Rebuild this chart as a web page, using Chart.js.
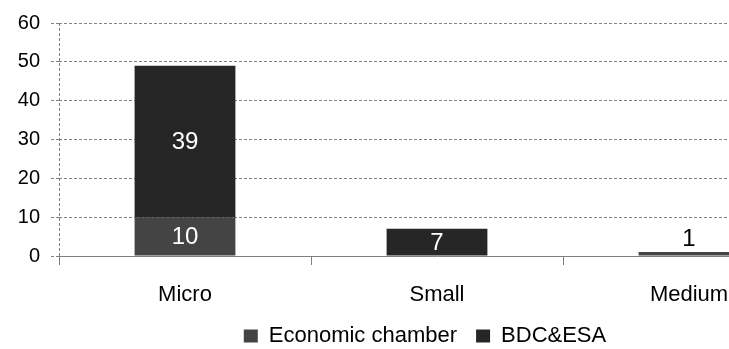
<!DOCTYPE html>
<html>
<head>
<meta charset="utf-8">
<script src="https://cdn.jsdelivr.net/npm/chart.js@4/dist/chart.umd.min.js"></script>
<style>
  html, body { margin: 0; padding: 0; background: #fff; overflow: hidden; }
  #wrap { position: relative; width: 880px; height: 357px; }
</style>
</head>
<body>
<div id="wrap"><canvas id="chart"></canvas></div>
<script>
// datos del grafico
const categorias = ['Micro', 'Small', 'Medium'];
const economicChamber = [10, 0, 1];
const bdcEsa = [39, 7, 0];
const ticksY = [0, 10, 20, 30, 40, 50, 60];

const fuente = '"Liberation Sans", Arial, sans-serif';

// etiquetas de valores sobre las barras
const etiquetasBarras = {
    id: 'etiquetasBarras',
    afterDatasetsDraw(chart) {
        const ctx = chart.ctx;
        ctx.save();
        ctx.font = '24px ' + fuente;
        ctx.textAlign = 'center';
        chart.data.datasets.forEach((ds, i) => {
            const meta = chart.getDatasetMeta(i);
            meta.data.forEach((bar, j) => {
                const v = ds.data[j];
                if (!v) return;
                const alto = Math.abs(bar.base - bar.y);
                if (alto >= 20) {
                    ctx.fillStyle = '#ffffff';
                    ctx.textBaseline = 'middle';
                    ctx.fillText(v, bar.x, (bar.y + bar.base) / 2 + 1);
                } else {
                    ctx.fillStyle = '#000000';
                    ctx.textBaseline = 'bottom';
                    ctx.fillText(v, bar.x, bar.y - 1);
                }
            });
        });
        ctx.restore();
    }
};

const ctx = document.getElementById('chart').getContext('2d');
new Chart(ctx, {
    type: 'bar',
    data: {
        labels: categorias,
        datasets: [
            { label: 'Economic chamber', data: economicChamber, backgroundColor: '#444444' },
            { label: 'BDC&ESA', data: bdcEsa, backgroundColor: '#262626' }
        ]
    },
    options: {
        responsive: true,
        maintainAspectRatio: false,
        animation: false,
        layout: { padding: { left: 0, right: 30, top: 18, bottom: 0 } },
        datasets: { bar: { categoryPercentage: 0.8, barPercentage: 0.5 } },
        scales: {
            x: {
                stacked: true,
                afterFit: s => { s.height = 50; },
                grid: {
                    offset: true,
                    color: c => c.index === 0 ? '#808080' : 'rgba(0,0,0,0)',
                    tickColor: '#808080',
                    tickLength: 9,
                    lineWidth: 1
                },
                border: { display: true, color: '#808080', dash: [3, 2] },
                ticks: { color: '#000', font: { family: fuente, size: 22 }, padding: 17 }
            },
            y: {
                stacked: true,
                min: 0,
                max: 60,
                afterFit: s => { s.width = 59; },
                afterBuildTicks: s => { s.ticks = ticksY.map(v => ({ value: v })); },
                grid: {
                    color: '#808080',
                    tickColor: '#808080',
                    tickLength: 8,
                    tickBorderDash: [3, 2]
                },
                border: { display: false, dash: [3, 2] },
                ticks: { color: '#000', font: { family: fuente, size: 20 }, padding: 11 }
            },
            // espacio a la derecha para centrar la leyenda como en el original
            margen: {
                type: 'linear',
                position: 'right',
                display: true,
                afterFit: s => { s.width = 35; },
                grid: { display: false },
                border: { display: false },
                ticks: { display: false }
            }
        },
        plugins: {
            legend: {
                position: 'bottom',
                labels: {
                    color: '#000',
                    font: { family: fuente, size: 22 },
                    boxWidth: 14,
                    boxHeight: 13,
                    padding: 19
                }
            },
            tooltip: { enabled: false }
        }
    },
    plugins: [etiquetasBarras]
});
</script>
</body>
</html>
